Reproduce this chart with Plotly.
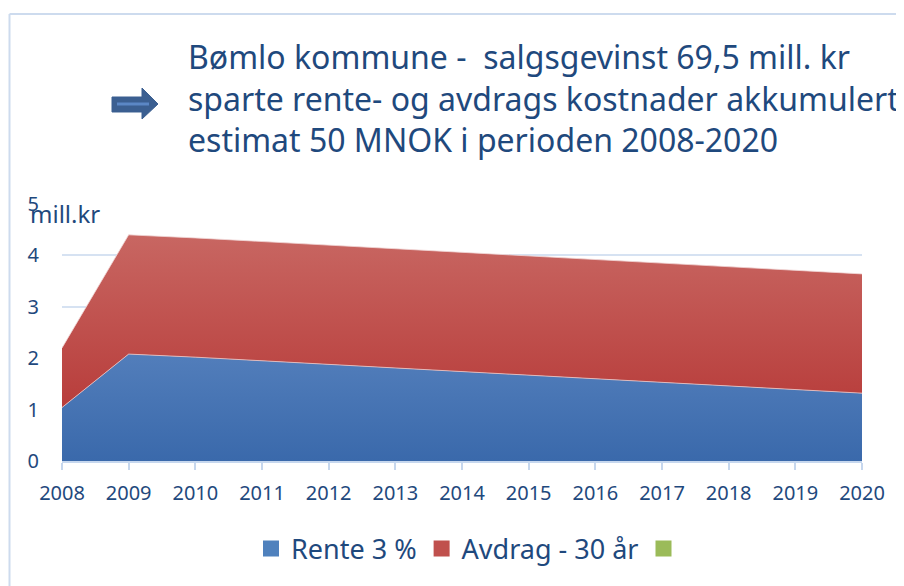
import plotly.graph_objects as go

years = [2008, 2009, 2010, 2011, 2012, 2013, 2014, 2015, 2016, 2017, 2018, 2019, 2020]
rente = [1.04, 2.08, 2.02, 1.95, 1.88, 1.81, 1.74, 1.67, 1.60, 1.53, 1.46, 1.39, 1.32]
avdrag = [1.16, 2.32, 2.32, 2.32, 2.32, 2.32, 2.32, 2.32, 2.32, 2.32, 2.32, 2.32, 2.32]
series_names = ["Rente 3 %", "Avdrag - 30 år", ""]
yticks = [0, 1, 2, 3, 4, 5]

total = [r + a for r, a in zip(rente, avdrag)]

TXT = "#1f497d"
FONT = "Noto Sans"

fig = go.Figure()
fig.add_trace(go.Scatter(x=years, y=rente, mode="lines", line=dict(width=0),
                         fill="tozeroy",
                         fillgradient=dict(type="vertical", start=0, stop=5,
                                           colorscale=[[0, "#3a69ab"], [1, "#749bd1"]]),
                         showlegend=False, hoverinfo="skip"))
fig.add_trace(go.Scatter(x=years, y=total, mode="lines", line=dict(width=0),
                         fill="tonexty",
                         fillgradient=dict(type="vertical", start=0, stop=5,
                                           colorscale=[[0, "#b3302f"], [1, "#cb6e69"]]),
                         showlegend=False, hoverinfo="skip"))
fig.add_trace(go.Scatter(x=years, y=rente, mode="lines", line=dict(width=1, color="rgba(235,200,200,0.8)"),
                         showlegend=False, hoverinfo="skip"))
fig.add_trace(go.Scatter(x=years, y=total, mode="lines", line=dict(width=1, color="rgba(240,215,215,0.8)"),
                         showlegend=False, hoverinfo="skip"))

legend_colors = ["#4f81bd", "#c0504d", "#9bbb59"]
for nm, col in zip(series_names, legend_colors):
    fig.add_trace(go.Scatter(x=[None], y=[None], mode="markers", name=nm,
                             marker=dict(symbol="square", size=17, color=col)))


def px(x):
    return (x - 62) / 800


def py(y):
    return (461 - y) / 257


fig.update_layout(
    width=904, height=586,
    paper_bgcolor="white", plot_bgcolor="white",
    margin=dict(l=54, r=50, t=196, b=133),
    font=dict(family=FONT, color=TXT),
    legend=dict(orientation="h", x=px(470), xanchor="center", y=py(549), yanchor="middle",
                font=dict(size=27, color=TXT), itemwidth=30, traceorder="normal"),
    xaxis=dict(range=[2008, 2020], tickmode="array", tickvals=years,
               ticktext=[str(y) for y in years], showgrid=False,
               showline=True, linecolor="#c6d7ee", linewidth=1.5,
               ticks="outside", ticklen=7, tickcolor="#c6d7ee", tickwidth=1.5,
               tickfont=dict(size=20, color=TXT), ticklabelstandoff=6, zeroline=False),
    yaxis=dict(range=[0, 5], tickvals=yticks, showgrid=True, gridcolor="#d6e2f2",
               gridwidth=1.5, showline=False, zeroline=False, ticks="",
               tickfont=dict(size=20, color=TXT), ticklabelstandoff=22),
    annotations=[
        dict(text="Bømlo kommune -  salgsgevinst 69,5 mill. kr<br>sparte rente- og avdrags kostnader akkumulert<br>estimat 50 MNOK i perioden 2008-2020",
             xref="paper", yref="paper", x=px(186), y=py(98),
             xanchor="left", yanchor="middle", align="left", showarrow=False,
             font=dict(size=32, color=TXT, family=FONT)),
        dict(text="mill.kr", xref="paper", yref="paper", x=px(28), y=py(213),
             xanchor="left", yanchor="middle", showarrow=False,
             font=dict(size=24, color=TXT)),
    ],
    shapes=[
        dict(type="line", xref="paper", yref="paper",
             x0=px(9.5), x1=px(930), y0=py(14), y1=py(14),
             line=dict(color="#cddbee", width=2)),
        dict(type="line", xref="paper", yref="paper",
             x0=px(9.5), x1=px(9.5), y0=py(14), y1=py(620),
             line=dict(color="#cddbee", width=2)),
    ],
)

pts = [(112, 97), (142, 97), (142, 88), (158, 104), (142, 119), (142, 112), (112, 112)]
path = "M " + " L ".join(f"{px(a):.5f},{py(b):.5f}" for a, b in pts) + " Z"
fig.add_shape(type="path", path=path, xref="paper", yref="paper",
              fillcolor="#3b5f91", line=dict(color="#3b5f91", width=1))
fig.add_shape(type="line", xref="paper", yref="paper", x0=px(117), x1=px(149), y0=py(104), y1=py(104),
              line=dict(color="#5b87c5", width=3))

fig.write_html("out.html")
